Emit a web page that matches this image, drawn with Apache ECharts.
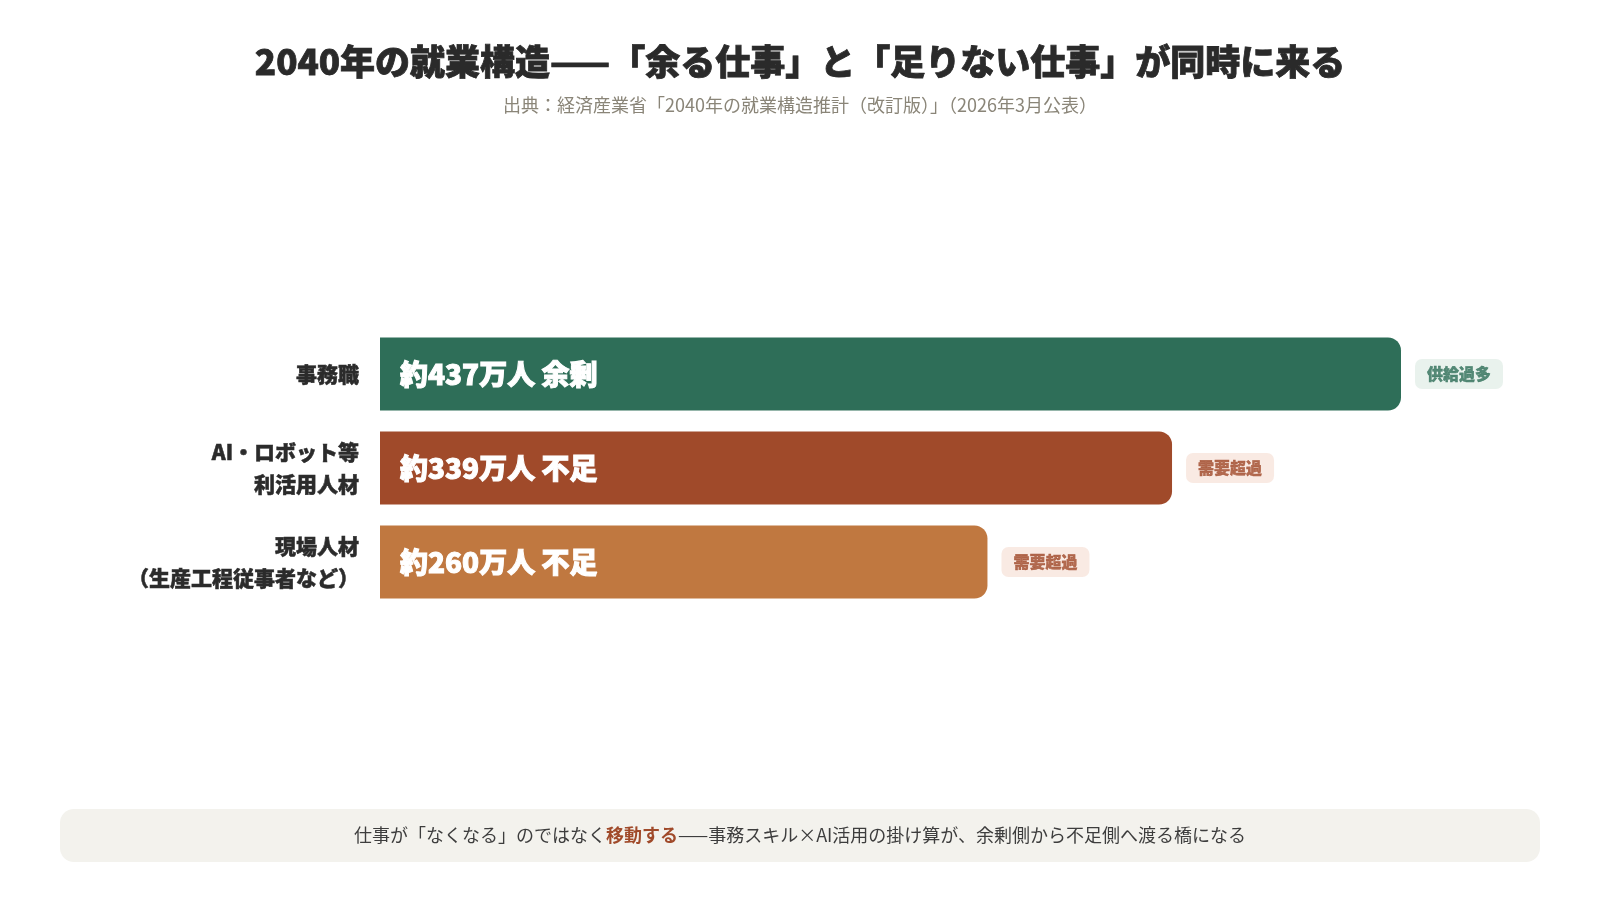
<!DOCTYPE html>
<html>
<head>
<meta charset="utf-8">
<script src="https://cdn.jsdelivr.net/npm/echarts@6/dist/echarts.min.js"></script>
<style>
html,body{margin:0;padding:0;background:#ffffff;}
#chart{width:1600px;height:900px;}
</style>
</head>
<body>
<div id="chart"></div>
<script>
const categories = ['事務職', 'AI・ロボット等\n利活用人材', '現場人材\n（生産工程従事者など）'];
const values = [437, 339, 260];
const statusTexts = ['余剰', '不足', '不足'];
const badgeTexts = ['供給過多', '需要超過', '需要超過'];
const barColors = ['#2E6E58', '#A04A2A', '#C07840'];
const badgeBg = ['#E3EFE8', '#F7E5DC', '#F7E5DC'];
const badgeFg = ['#2E6E58', '#A04A2A', '#A04A2A'];

const FONT = '"Noto Sans CJK JP", "Noto Sans", sans-serif';
const chart = echarts.init(document.getElementById('chart'));

const option = {
  backgroundColor: '#ffffff',
  textStyle: { fontFamily: FONT },
  title: {
    text: '2040年の就業構造——「余る仕事」と「足りない仕事」が同時に来る',
    subtext: '出典：経済産業省「2040年の就業構造推計（改訂版）」（2026年3月公表）',
    left: 'center',
    top: 35,
    itemGap: 9,
    textStyle: { fontFamily: FONT, fontSize: 35, fontWeight: 900, color: '#2a2a2a', lineHeight: 44,
      textBorderColor: '#2a2a2a', textBorderWidth: 0.8 },
    subtextStyle: { fontFamily: FONT, fontSize: 18, color: '#8a8578', lineHeight: 24 }
  },
  grid: { left: 380, right: 199, top: 327, height: 282, containLabel: false },
  xAxis: {
    type: 'value', min: 0, max: 437,
    show: false
  },
  yAxis: {
    type: 'category', data: categories, inverse: true,
    axisLine: { show: false }, axisTick: { show: false }, splitLine: { show: false },
    axisLabel: {
      margin: 21, fontFamily: FONT, fontSize: 21, fontWeight: 900, color: '#2b2b2b',
      lineHeight: 32, align: 'right', textBorderColor: '#2b2b2b', textBorderWidth: 0.5
    }
  },
  series: [
    {
      type: 'bar',
      barWidth: 73,
      data: values.map((v, i) => ({
        value: v,
        itemStyle: { color: barColors[i], borderRadius: [0, 13, 13, 0] }
      })),
      label: {
        show: true, position: 'insideLeft', distance: 20,
        formatter: p => '約' + p.value + '万人 ' + statusTexts[p.dataIndex],
        fontFamily: FONT, fontSize: 28, fontWeight: 900, color: '#ffffff',
        textBorderColor: '#ffffff', textBorderWidth: 1
      },
      silent: true
    },
    {
      type: 'scatter',
      symbolSize: 0,
      data: values.map((v, i) => ({
        value: [v, i],
        label: {
          show: true, position: 'right', distance: 14,
          formatter: badgeTexts[i],
          backgroundColor: badgeBg[i], color: badgeFg[i],
          padding: [7, 12, 7, 12], borderRadius: 7,
          fontFamily: FONT, fontSize: 16, fontWeight: 900,
          textBorderColor: badgeFg[i], textBorderWidth: 0.4
        }
      })),
      silent: true
    }
  ],
  graphic: [
    {
      type: 'rect', left: 60, top: 809,
      shape: { width: 1480, height: 53, r: 14 },
      style: { fill: '#F3F2ED' }, silent: true
    },
    {
      type: 'text', x: 800, y: 835,
      style: {
        text: '{a|仕事が「なくなる」のではなく}{b|移動する}{a|——事務スキル×AI活用の掛け算が、余剰側から不足側へ渡る橋になる}',
        align: 'center', verticalAlign: 'middle',
        rich: {
          a: { fontFamily: FONT, fontSize: 18, fill: '#3d3d3d' },
          b: { fontFamily: FONT, fontSize: 18, fill: '#A04A2A', fontWeight: 'bold' }
        }
      },
      silent: true
    }
  ]
};
chart.setOption(option);
</script>
</body>
</html>
